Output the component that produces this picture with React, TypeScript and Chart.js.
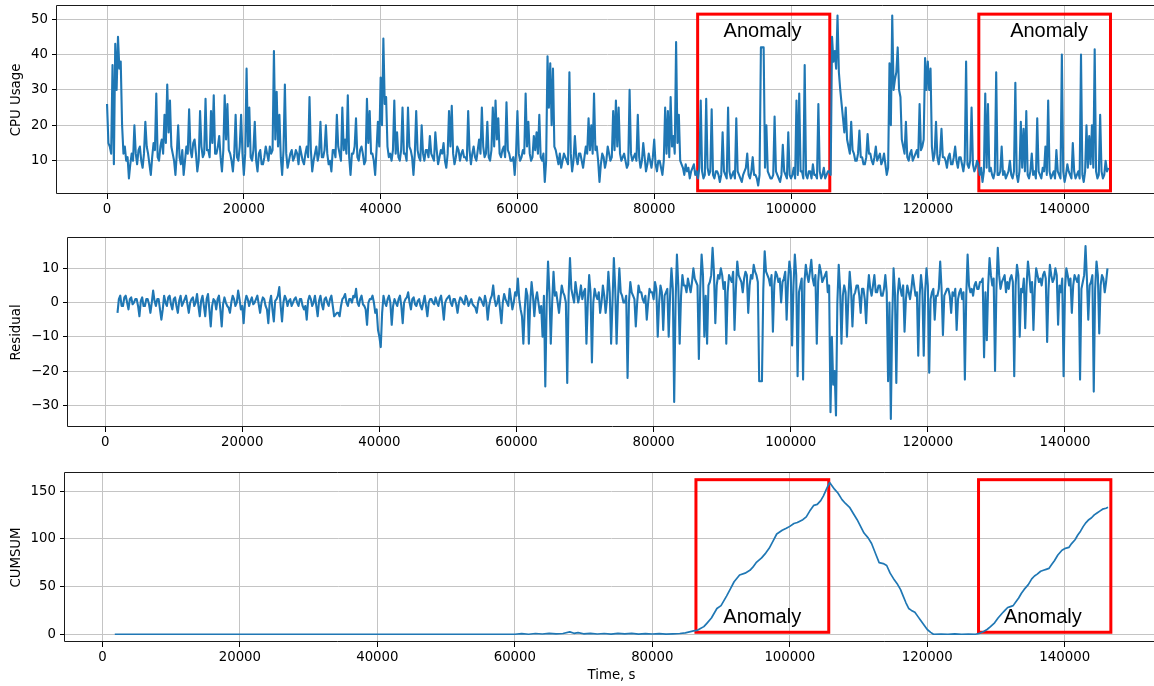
import React, { useEffect, useRef } from 'react';
import { Chart, registerables } from 'chart.js';

Chart.register(...registerables);

// ---------------- data ----------------
// CPU usage sampled every 200 s starting at t = 0
const cpuStartTime = 0;
const cpuStepSeconds = 200;
const cpuUsage = [
  26,15, 14,12, 37,9, 43,30, 45,36, 38,20, 12,14, 10,11, 5,9, 12,10, 20,12, 9,13, 14,10, 8,12, 21,14, 12,9, 6,11, 15,13, 29,11, 10,14, 16,12, 23,15, 31.5,18, 27,14, 12,10, 6,12, 20,11, 9,13, 6,10, 14,12, 24.5,13, 11,15, 16,12, 7,10, 24,14, 11,12, 27.5,13, 13,11, 24,15, 28.5,12, 12,14, 17,11, 7,13, 28.5,16, 26,13, 12,10, 7,12, 23,11, 10,14, 23,12,
  6,12, 36,14, 25,11, 10,13, 21,10, 7,12, 13,9, 9,11, 14,12, 10,14, 12,13, 41,16, 29.5,14, 23,11, 6,13, 31.5,12, 8,10, 12,13, 10,11, 13,12, 9,14, 12,10, 9,12, 14,11, 28,13, 7,10, 12,14, 10,12, 21,11, 11,13, 20,12, 9,10, 7,13, 13,11, 23,14, 12,10, 25,13, 16,12, 28.5,11, 6,12, 12,14, 22,11, 10,13, 14,12, 9,10, 27.5,15, 24,12, 12,10, 6,13, 21,14,
  33.5,20, 44.5,26, 28,14, 11,12, 10,13, 27,12, 18,11, 10,13, 25,12, 12,10, 25,14, 13,11, 6,12, 24,13, 11,10, 20,12, 10,13, 13,11, 17,12, 11,10, 18,13, 9,11, 13,12, 15,10, 8,12, 24,14, 25.5,12, 9,11, 14,13, 10,12, 13,11, 11,10, 24,13, 9,12, 14,11, 10,13, 16,12, 25,14, 11,12, 21,11, 10,13, 25,14, 27,16, 22,12, 11,13, 14,11, 26.5,13, 12,10, 10,11, 6,12,
  24,12, 10,11, 13,12, 29,14, 21,12, 10,11, 17,13, 18,12, 23,11, 10,12, 4,10, 39.5,25, 37.5,20, 36,14, 13,11, 9,12, 8,10, 12,11, 10,9, 35,12, 7,10, 17,11, 9,12, 12,10, 8,11, 14,12, 22,13, 20,12, 29,13, 14,10, 4,9, 12,11, 8,10, 14,12, 10,11, 24,13, 27,14, 25,12, 10,11, 12,10, 8,9, 30,12, 10,11, 12,10, 23,11, 8,10, 15,11, 7,9, 12,10, 8,11,
  16,9, 7,10, 10,8, 6,10, 25,12, 24,11, 28,14, 17,12, 43.5,15, 23,10, 9,8, 6,9, 7,8, 5,7, 8,9, 6,7, 5,8, 27,7, 5,6, 27.5,8, 6,7, 24.5,6, 5,7, 7,6, 4,6, 18,7, 6,5, 25,7, 5,6, 7,5, 22,7, 6,5, 4,6, 7,8, 12,6, 5,7, 11,6, 6,5, 3,6, 42,42, 42,8, 20,7, 6,5, 5,6, 22.5,7, 6,5, 4,6, 14.5,7, 6,5, 18,6,
  5,6, 8,5, 27,6, 29,7, 7,5, 37,6, 5,7, 7,5, 9,6, 6,5, 26,7, 5,6, 8,5, 6,7, 7,6, 45,38, 41,36, 51,35, 30,26, 22,18, 25,16, 14,12, 21,13, 12,10, 10,12, 18.5,11, 11,9, 9,11, 17.5,12, 12,10, 9,11, 14,10, 11,12, 9,10, 12,9, 6,8, 37.5,20, 51,30, 33,35, 42,30, 28,16, 14,12, 21,11, 10,12, 13,10, 11,12, 13,11, 26,13, 14,16, 39,30,
  38,30, 36,14, 10,12, 21,11, 9,12, 19,11, 11,10, 8,11, 12,9, 9,11, 14,10, 8,11, 11,9, 7,10, 38,9, 8,10, 25,9, 7,8, 10,9, 6,8, 4,7, 29,8, 26,7, 8,6, 5,7, 35,6, 6,7, 14,6, 7,5, 6,7, 10,6, 5,7, 32,6, 4,7, 21,8, 19,7, 24,6, 5,7, 12,6, 7,5, 22,7, 6,5, 8,7, 14,6, 27,7, 5,6, 7,5, 13,7, 6,5, 40,7,
  4,6, 9,7, 6,5, 15,7, 5,6, 7,5, 40,6, 4,7, 20,8, 17,9, 20,8, 41.5,7, 5,6, 23,7, 5,6, 10,7, 8,
];

// Residual sampled every 200 s starting at t = 1800
const residualStartTime = 1800;
const residualStepSeconds = 200;
const residual = [
  -3,1, 2,-1, -1,1.5, 2,0, -2,1, 1.5,-0.5, 0,1, 1,-1, -4,0.5, 1.5,-1, -1,1, 1,-0.5, -3,0, 3.5,0.5, -1,1, 1,-2, -5,-2, 2,0, -1,1.5, 2,-0.5, -2,1, 1.5,-1, -3,0.5, 2,-1, 0,1, 2,-0.5, -3,0, 1,1.5, -1,0, 2.5,-1, -4,0.5, 2,-1, -4,1, 2.5,-2, -7,-1, 1,0.5, -2,1, 2,-2, -7,-0.5, 1.5,0, -1,-1.5, -3,0, 2,1, -1,0, 3.5,1, -2,-1, -6,0, 2,1, -1,0.5, 1.5,-0.5,
  0,1, 2,-0.5, -3,0, 1.5,1, -1,-2, -6,0, 2,-2, -5.5,0.5, 1,2, 4.5,-1, -5.5,0, 2,1, -1,0.5, 1,-1, 0,1, 1.5,0, -1,1, 1,-1, -2,-1, -5,0.5, 2,1, -1,0, 2,-1, -4,0.5, 2,-0.5, -2,1, 1.5,0, -1,1, 2,-1, -4,-3.5, -3,-3, -4,-1, 1,1.5, 2.5,0, -1,1, 1,0, 2,1.5, 4,0, -1,1, 2,-0.5, -1,-2, -6.5,0, 1,1, 2,0, -3,-2, -8,-10, -13,-3, 2,0, -1,1, 2,0,
  -6.5,-1, 1,0, -1,1, 2,-1, -6,0, 1,1.5, 3,0, -2,1, 1.5,-0.5, -1,0.5, 1,-1, -2,0, 2,-1, -4,0, 1,1, 0,-0.5, 1.5,0, -1,1, 2,-1, -5,0, 1,1.5, 2,0, -1,1, 1,-0.5, -3,0, 1.5,1, 0,-0.5, 2,1, -1,0, 1,-0.5, -1,-1.5, -3,0, 1.5,1, 0,-1, 2,0, -5,-1, 1,2, 5,1, -1,0, 2,-2, -6,0, 2.5,1, 0,-1, 4,1, -2,0, 3,2, 7,1, -2,-4, -12,-2, 4,2,
  -12,0, 6,2, -4,1, 3,0, -3,-1, -10,2, -24.5,0, 12,3, -12,0, 9,2, 3,0, -3,1, 5,3, 2,0, -23.5,2, 13,4, 2,0, 6,3, 0,2, 5,1, 3,4, -12,0, 8,3, -17.5,0, 4,2, 1,3, -3,0, 5,2, -3,1, 9,3, -12,0, 13,4, -12,1, 10,3, 2,0, 0,2, -22,0, 6,3, 2,1, -7,0, 5,3, 3,1, 0,2, -5,0, 4,3, 3,1, 6,4, -10,0, 5,3, -8,2,
  3,4, -10,2, 10,4, -29,0, 14,5, -12,2, 8,5, 5,3, 7,5, 3,6, 10,7, 6,5, -16.5,4, 14,8, -10,2, -12,5, 6,8, 16,9, -6,5, 8,7, 10,8, 4,6, -12,3, 8,7, 6,9, -8,4, 12,8, 7,6, 3,7, 9,8, -3,5, 8,7, 11,9, 8,6, -23,-23, -23,4, 15,9, 8,7, 5,8, -8.5,5, 9,8, 6,7, 0,6, 7,9, -5,6, 12,9, -12.5,5, 14,8, -21.5,3, 5,7,
  -22.5,6, 11,8, 6,9, 12.5,7, 5,8, -12,6, 11,9, 6,7, 8,9, 3,5, -32,-10, -24,-20, -33,0, 11,4, -12,2, 5,3, -10,1, 9,4, -7,2, 3,5, 5,2, -3,4, 4,1, -6,3, 8,4, 2,5, 8,3, 3,5, 5,2, 2,4, 8,3, -23,0, -34,-5, 10,3, -23.5,2, 7,4, 2,5, -8.5,1, 5,3, 1,4, 8,5, 2,3, -15.5,2, 8,4, -15.5,3, 10,5, -20.5,1, 3,4, -5,2, 2,4,
  12,4, -9.5,2, 3,4, 4,2, -3,3, 2,4, -8,1, 3,4, 1,3, -22.5,2, 14,5, 3,4, 2,5, 6,4, 4,6, 6,7, -16,3, -11,5, 13,8, 5,7, -20,4, 16,8, 4,6, 7,8, 3,6, 4,7, 8,6, -21.5,5, 11,8, -10,4, 3,7, -7.5,5, 12,8, 3,6, -8,4, 10,8, 6,7, 5,8, 9,7, -11.5,4, 11,8, 6,7, 10,8, -6.5,5, 3,7, -21.5,4, 10,8, 5,7, -3,5, 8,7,
  6,8, -22.5,4, 6,8, 16.5,7, -5,5, 6,8, -26,4, 12,8, -9,5, 8,7, 3,6, 10,
];

// CUMSUM curve
const cumsumTime = [
  1800, 57000, 60000, 61000, 62000, 63000, 64000, 65000, 66000, 67000, 68000, 68600, 69200, 70000, 71000, 72000, 73000, 74000, 75000, 76000,
  77000, 78000, 79000, 80000, 81000, 82000, 83000, 84000, 84800, 85400, 86000, 86500, 87000, 87500, 88000, 88600, 89400, 90000, 90800, 91400,
  91900, 92700, 93500, 94200, 94600, 95100, 95900, 96500, 97000, 97600, 98100, 98900, 99500, 100000, 100600, 101100, 101900, 102400, 102900, 103500,
  104000, 104500, 104900, 105400, 105800, 106500, 107000, 107600, 108100, 108700, 109200, 109800, 110300, 110800, 111400, 111900, 112500, 113000, 113600, 114100,
  114600, 115200, 115700, 116100, 116500, 116900, 117300, 117700, 118200, 118600, 119000, 119500, 120000, 120500, 120900, 122000, 123000, 124000, 125000, 126000,
  127000, 127600, 128200, 128700, 129200, 129800, 130300, 130900, 131300, 131700, 132100, 132500, 132900, 133300, 133700, 134100, 134700, 135200, 135600, 136000,
  136500, 136900, 137300, 137700, 138100, 138500, 139000, 139600, 140100, 140600, 141000, 141500, 141900, 142300, 142700, 143100, 143500, 143900, 144300, 144700,
  145100, 145500, 146000, 146300,
];
const cumsumValue = [
  0, 0, 0, 0.6, 0, 0.8, 0.3, 1, 0.5, 0.8, 2.5, 1, 1.8, 0.5, 1, 0.3, 0.8, 0.2, 1, 0.4,
  0.9, 0.2, 0.6, 0.3, 0.7, 0.2, 0.5, 0.8, 1.5, 2.5, 3.5, 4, 6, 8, 12, 17, 27, 30, 40, 48,
  55, 62, 64, 67, 70, 75, 80, 85, 90, 98, 105, 109, 111, 113, 116, 117, 120, 123, 129, 135,
  136, 140, 145, 153, 159, 152, 148, 141, 137, 133, 127, 120, 113, 106, 101, 95, 84, 75, 74, 72,
  64, 57, 52, 47, 40, 33, 27, 25, 23, 19, 15, 10, 5, 2, 0, 0.3, 0, 0.4, 0, 0.3,
  0, 1, 3, 5, 8, 12, 17, 22, 25, 28, 29, 30, 34, 38, 43, 47, 52, 58, 61, 63,
  66, 67, 68, 69, 73, 77, 83, 88, 90, 91, 95, 99, 104, 108, 113, 117, 120, 122, 125, 127,
  129, 131, 132, 133,
];

// axis ticks
const xTicks = [0, 20000, 40000, 60000, 80000, 100000, 120000, 140000];
const cpuTicks = [10, 20, 30, 40, 50];
const residualTicks = [-30, -20, -10, 0, 10];
const cumsumTicks = [0, 50, 100, 150];

// anomaly windows (seconds)
const anomalyStart = [86350, 127460];
const anomalyEnd = [105670, 146710];
const cpuAnomalyLabelX = [95830, 137730];
const cumsumAnomalyLabelX = [96000, 136810];

// ---------------- drawing ----------------
const FONT = "'DejaVu Sans', 'Liberation Sans', sans-serif";
const LINE_COLOR = '#1f77b4';

type Anno = { boxLow: number; boxHigh: number; labelX: number[]; labelY: number };
type PanelSpec = {
  points: { x: number; y: number }[];
  xMin: number; xMax: number;
  yMin: number; yMax: number;
  yTicks: number[];
  yTitle: string;
  xTitle?: string;
  yAxisWidth: number;
  xAxisHeight: number;
  padTop: number;
  lineWidth: number;
  anno?: Anno;
};

const fmt = (v: number) => (v < 0 ? '\u2212' + Math.abs(v) : String(v));

function buildChart(canvas: HTMLCanvasElement, spec: PanelSpec) {
  const overlay = {
    id: 'overlay',
    beforeDatasetsDraw(chart: any) {
      if (!spec.anno) return;
      const { ctx, scales } = chart;
      const x = scales.x, y = scales.y;
      ctx.save();
      ctx.strokeStyle = '#ff0000';
      ctx.lineWidth = 3;
      ctx.lineJoin = 'miter';
      anomalyStart.forEach((s, i) => {
        const x0 = x.getPixelForValue(s);
        const x1 = x.getPixelForValue(anomalyEnd[i]);
        const y0 = y.getPixelForValue(spec.anno!.boxLow);
        const y1 = y.getPixelForValue(spec.anno!.boxHigh);
        ctx.strokeRect(x0, y1, x1 - x0, y0 - y1);
      });
      ctx.restore();
    },
    afterDatasetsDraw(chart: any) {
      const { ctx, chartArea: a, scales } = chart;
      ctx.save();
      if (spec.anno) {
        ctx.fillStyle = '#000';
        ctx.font = "20px 'Liberation Sans', Arial, sans-serif";
        ctx.textAlign = 'center';
        ctx.textBaseline = 'alphabetic';
        spec.anno.labelX.forEach((lx) => {
          ctx.fillText('Anomaly', scales.x.getPixelForValue(lx), scales.y.getPixelForValue(spec.anno!.labelY));
        });
      }
      ctx.strokeStyle = '#1a1a1a';
      ctx.lineWidth = 1;
      ctx.beginPath();
      ctx.rect(a.left - 0.5, a.top - 0.5, a.right - a.left, a.bottom - a.top);
      ctx.stroke();
      ctx.restore();
    },
  };

  const tickFont = { family: FONT, size: 13.3 };

  return new Chart(canvas, {
    type: 'line',
    data: {
      datasets: [
        {
          data: spec.points,
          borderColor: LINE_COLOR,
          borderWidth: spec.lineWidth,
          pointRadius: 0,
          fill: false,
          tension: 0,
          borderJoinStyle: 'round',
        } as any,
      ],
    },
    options: {
      responsive: false,
      animation: false,
      devicePixelRatio: 1,
      events: [],
      layout: { padding: { top: spec.padTop, right: 2, left: 0, bottom: 0 } },
      plugins: {
        legend: { display: false },
        tooltip: { enabled: false },
        title: { display: false },
      },
      scales: {
        x: {
          type: 'linear',
          min: spec.xMin,
          max: spec.xMax,
          afterBuildTicks: (s: any) => {
            s.ticks = xTicks.map((v) => ({ value: v }));
          },
          afterFit: (s: any) => {
            s.height = spec.xAxisHeight;
            s.paddingLeft = 0; s.paddingRight = 0; s.paddingTop = 0; s.paddingBottom = 0;
          },
          ticks: {
            callback: (v: any) => fmt(Number(v)),
            font: tickFont,
            color: '#000',
            padding: 3,
            maxRotation: 0,
            autoSkip: false,
          },
          grid: { color: '#c4c4c4', lineWidth: 1, tickLength: 5, tickColor: '#000', drawTicks: true },
          border: { display: false },
          title: spec.xTitle
            ? { display: true, text: spec.xTitle, font: tickFont, color: '#000', padding: { top: 0, bottom: 2 } }
            : { display: false },
        },
        y: {
          type: 'linear',
          min: spec.yMin,
          max: spec.yMax,
          afterBuildTicks: (s: any) => {
            s.ticks = spec.yTicks.map((v) => ({ value: v }));
          },
          afterFit: (s: any) => {
            s.width = spec.yAxisWidth;
            s.paddingLeft = 0; s.paddingRight = 0; s.paddingTop = 0; s.paddingBottom = 0;
          },
          ticks: {
            callback: (v: any) => fmt(Number(v)),
            font: tickFont,
            color: '#000',
            padding: 4,
            autoSkip: false,
          },
          grid: { color: '#c4c4c4', lineWidth: 1, tickLength: 5, tickColor: '#000', drawTicks: true },
          border: { display: false },
          title: { display: true, text: spec.yTitle, font: tickFont, color: '#000', padding: { top: 9, bottom: 0 } },
        },
      },
    } as any,
    plugins: [overlay],
  });
}

const cpuPoints = cpuUsage.map((v, i) => ({ x: cpuStartTime + i * cpuStepSeconds, y: v }));
const residualPoints = residual.map((v, i) => ({ x: residualStartTime + i * residualStepSeconds, y: v }));
const cumsumPoints = cumsumValue.map((v, i) => ({ x: cumsumTime[i], y: v }));

export default function App() {
  const c1 = useRef<HTMLCanvasElement>(null);
  const c2 = useRef<HTMLCanvasElement>(null);
  const c3 = useRef<HTMLCanvasElement>(null);

  useEffect(() => {
    const charts = [
      buildChart(c1.current!, {
        points: cpuPoints,
        xMin: -7317, xMax: 153657,
        yMin: 0.6, yMax: 53.7,
        yTicks: cpuTicks,
        yTitle: 'CPU Usage',
        yAxisWidth: 57,
        xAxisHeight: 36,
        padTop: 6,
        lineWidth: 2.1,
        anno: { boxLow: 1.5, boxHigh: 51.4, labelX: cpuAnomalyLabelX, labelY: 45 },
      }),
      buildChart(c2.current!, {
        points: residualPoints,
        xMin: -5420, xMax: 153570,
        yMin: -36.34, yMax: 18.85,
        yTicks: residualTicks,
        yTitle: 'Residual',
        yAxisWidth: 68,
        xAxisHeight: 28,
        padTop: 8,
        lineWidth: 2.1,
      }),
      buildChart(c3.current!, {
        points: cumsumPoints,
        xMin: -5441, xMax: 153570,
        yMin: -8.1, yMax: 168.9,
        yTicks: cumsumTicks,
        yTitle: 'CUMSUM',
        xTitle: 'Time, s',
        yAxisWidth: 65,
        xAxisHeight: 44,
        padTop: 18,
        lineWidth: 1.7,
        anno: { boxLow: 2.1, boxHigh: 161.9, labelX: cumsumAnomalyLabelX, labelY: 11.8 },
      }),
    ];
    return () => charts.forEach((c) => c.destroy());
  }, []);

  const canvasStyle = (top: number): React.CSSProperties => ({ position: 'absolute', left: 0, top, display: 'block' });

  return (
    <div style={{ position: 'absolute', left: 0, top: 0, width: 1154, height: 686, overflow: 'hidden', background: '#fff' }}>
      <canvas ref={c1} width={1160} height={230} style={canvasStyle(0)} />
      <canvas ref={c2} width={1160} height={225} style={canvasStyle(230)} />
      <canvas ref={c3} width={1160} height={231} style={canvasStyle(455)} />
    </div>
  );
}
